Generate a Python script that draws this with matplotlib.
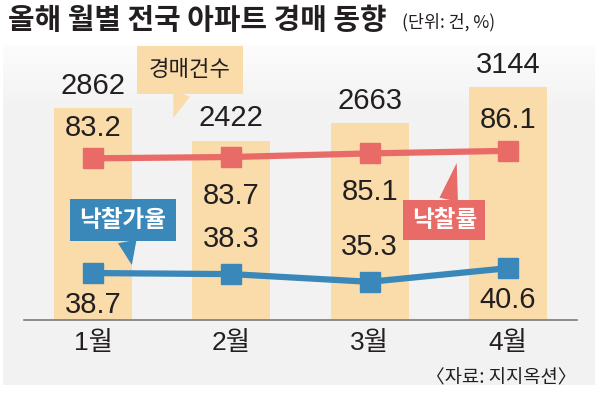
import matplotlib
matplotlib.use('Agg')
import matplotlib.pyplot as plt
from matplotlib import font_manager
import numpy as np

months = ['1월', '2월', '3월', '4월']
auction_cnt = [2862, 2422, 2663, 3144]     # 경매건수
win_rate = [83.2, 83.7, 85.1, 86.1]        # 낙찰률
price_rate = [38.7, 38.3, 35.3, 40.6]      # 낙찰가율
win_pos = ['above', 'below', 'below', 'above']
price_pos = ['below', 'above', 'above', 'below']

BAR = '#fadcaa'
RED = '#e96b68'
BLUE = '#3a87b9'
TXT = '#231f20'

# condensed font for digits if we have it, korean falls back to Noto
names = {f.name for f in font_manager.fontManager.ttflist}
num_font = 'Liberation Sans Narrow' if 'Liberation Sans Narrow' in names else 'Liberation Sans'
kr = 'Noto Sans CJK KR'
plt.rcParams['font.family'] = [num_font, kr]
plt.rcParams['text.color'] = TXT

fig = plt.figure(figsize=(6, 3.93), dpi=100)

# light gray panel behind the chart
bg = fig.add_axes([3/600, 1-385/393, 592/600, 340/393], zorder=-1)
grad = np.linspace(0, 1, 100).reshape(-1, 1)
grad = np.clip(grad * 5, 0, 1)
bg.imshow(grad, aspect='auto', cmap=matplotlib.colors.LinearSegmentedColormap.from_list('g', ['#fcfcfc', '#f2f2f2']),
          extent=[0, 1, 1, 0])
bg.axis('off')

ax = fig.add_axes([24/600, 1-320/393, 553/600, 270/393])
ax.patch.set_visible(False)
x = np.arange(len(months))
ax.bar(x, auction_cnt, width=0.565, color=BAR, zorder=1)
ax.set_xlim(-0.5, 3.5)
ax.set_ylim(0, 3645)
for s in ['top', 'left', 'right']:
    ax.spines[s].set_visible(False)
ax.spines['bottom'].set_color('#7a7a7a')
ax.spines['bottom'].set_linewidth(1.2)
ax.set_yticks([])
ax.set_xticks(x, months)
ax.tick_params(axis='x', length=0, pad=8, labelsize=19, colors=TXT)

num_size = 21
for i, v in enumerate(auction_cnt):
    ax.annotate(str(v), (i, v), xytext=(0, 16), textcoords='offset points',
                ha='center', va='center', fontsize=num_size)

# callouts
ax.annotate('경매건수', xy=(0.58, 2727), xytext=(0.70, 3375), ha='center', va='center',
            fontsize=16, family=[kr],
            bbox=dict(boxstyle='square,pad=0.55', fc=BAR, ec='none'),
            arrowprops=dict(arrowstyle='wedge,tail_width=0.8', fc=BAR, ec='none', shrinkA=0, shrinkB=0))
ax.annotate('낙찰가율', xy=(0.28, 742), xytext=(0.217, 1350), ha='center', va='center',
            fontsize=17, fontweight='bold', color='white', family=[kr], zorder=5,
            bbox=dict(boxstyle='square,pad=0.4', fc=BLUE, ec='none'),
            arrowprops=dict(arrowstyle='wedge,tail_width=0.8', fc=BLUE, ec='none', shrinkA=0, shrinkB=0))
ax.annotate('낙찰률', xy=(2.63, 2120), xytext=(2.54, 1350), ha='center', va='center',
            fontsize=17, fontweight='bold', color='white', family=[kr], zorder=5,
            bbox=dict(boxstyle='square,pad=0.35', fc=RED, ec='none'),
            arrowprops=dict(arrowstyle='wedge,tail_width=0.8', fc=RED, ec='none', shrinkA=0, shrinkB=0))

ax2 = ax.twinx()
ax2.set_ylim(20.5, 125.2)
ax2.axis('off')
ax2.plot(x, win_rate, color=RED, lw=4.5, marker='s', ms=14, zorder=3)
ax2.plot(x, price_rate, color=BLUE, lw=4.5, marker='s', ms=14, zorder=3)

for i in range(len(x)):
    dy = 22 if win_pos[i] == 'above' else -28
    ax2.annotate(str(win_rate[i]), (i, win_rate[i]), xytext=(0, dy), textcoords='offset points',
                 ha='center', va='center', fontsize=num_size)
    dy = 25 if price_pos[i] == 'above' else -23
    ax2.annotate(str(price_rate[i]), (i, price_rate[i]), xytext=(0, dy), textcoords='offset points',
                 ha='center', va='center', fontsize=num_size)

fig.text(8/600, 1-20/393, '올해 월별 전국 아파트 경매 동향', fontsize=20.8, fontweight='bold',
         family=[kr], va='center')
fig.text(402/600, 1-22/393, '(단위: 건, %)', fontsize=12.5, family=[kr], va='center')
fig.text(576/600, 1-378/393, '〈자료: 지지옥션〉', fontsize=13.5, family=[kr], ha='right', va='center')

fig.savefig('out.png', dpi=100)
